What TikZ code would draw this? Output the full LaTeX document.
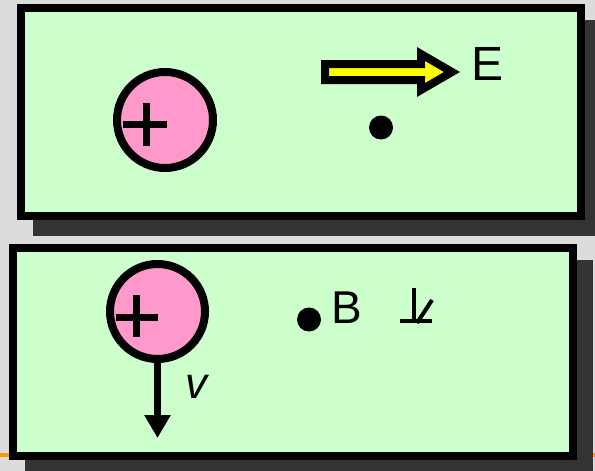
\documentclass[tikz,border=0pt]{standalone}
\usepackage{fontspec}
\setmainfont{Liberation Sans}
\usetikzlibrary{arrows.meta,calc}
\definecolor{bggray}{HTML}{DCDCDC}
\definecolor{boxgreen}{HTML}{CCFFCC}
\definecolor{shadowgray}{HTML}{333333}
\definecolor{chargepink}{HTML}{FF99CC}
\definecolor{fieldyellow}{HTML}{FFFF00}
\definecolor{lineorange}{HTML}{FF9900}
\tikzset{
  panel/.style={draw=black,line width=8pt,fill=boxgreen},
  panelshadow/.style={fill=shadowgray},
  charge/.style={circle,draw=black,line width=8pt,fill=chargepink,minimum size=96pt,inner sep=0pt},
  plusline/.style={line width=7pt},
  dotnode/.style={circle,fill=black,minimum size=24pt,inner sep=0pt},
  lbl/.style={inner sep=0pt,anchor=base west},
  fieldarrow/.style={draw=black,line width=8pt,fill=fieldyellow,line join=miter},
  velarrow/.style={line width=7pt,-{Triangle[length=23pt,width=25pt]}},
  symline/.style={line width=4pt}
}
\begin{document}
\begin{tikzpicture}[x=1pt,y=-1pt]
\useasboundingbox (0,0) rectangle (595,471);
\fill[bggray] (0,0) rectangle (595,471);
\fill[lineorange] (0,453) rectangle (595,457);
% top panel
\fill[panelshadow] (33,20) rectangle (601,236);
\draw[panel] (21,8) rectangle (581,216);
% bottom panel
\fill[panelshadow] (25,260) rectangle (593,476);
\draw[panel] (13,248) rectangle (573,456);
% top panel content
\node[charge] (q1) at (165,120) {};
\draw[plusline] ($(q1.center)+(-42,4)$) -- ($(q1.center)+(2,4)$);
\draw[plusline] ($(q1.center)+(-19,-17)$) -- ($(q1.center)+(-19,26)$);
\draw[fieldarrow] (325,64) -- (421,64) -- (421,54) -- (452,72) -- (421,90) -- (421,80) -- (325,80) -- cycle;
\node[lbl,font=\fontsize{48}{48}\selectfont] (E) at (471,80) {E};
\node[dotnode] (d1) at (381,127.5) {};
% bottom panel content
\node[charge,minimum size=95pt] (q2) at (157.5,311.5) {};
\draw[plusline] ($(q2.center)+(-41.5,5.5)$) -- ($(q2.center)+(0.5,5.5)$);
\draw[plusline] ($(q2.center)+(-21.5,-16.5)$) -- ($(q2.center)+(-21.5,25.5)$);
\coordinate (vend) at (157.5,438);
\draw[velarrow] (q2.south) -- (vend);
\node[lbl,font=\fontsize{44}{44}\selectfont\itshape] (v) at (185,398) {v};
\node[dotnode] (d2) at (309,319.5) {};
\node[lbl,font=\fontsize{46}{46}\selectfont] (B) at (331.5,323) {B};
\draw[symline] (414,288) -- (414,323);
\draw[symline] (400,321) -- (432,321);
\draw[symline] (432,300) -- (417,323);
\end{tikzpicture}
\end{document}
